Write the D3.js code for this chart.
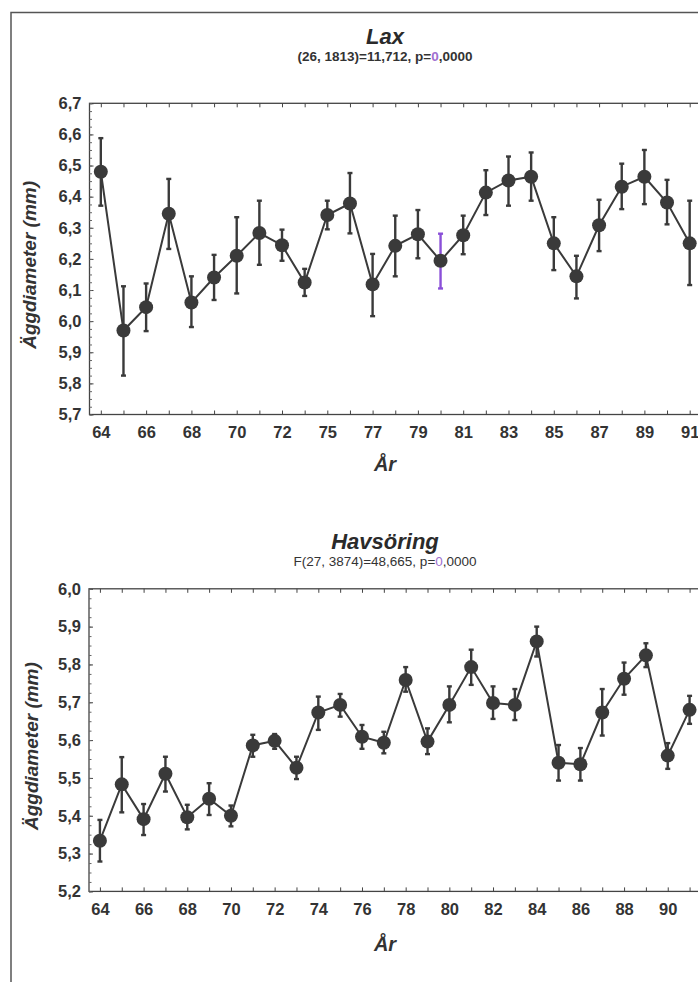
<!DOCTYPE html>
<html><head><meta charset="utf-8">
<script src="https://cdn.jsdelivr.net/npm/d3@7"></script>
<style>
html,body{margin:0;padding:0;background:#fff;overflow:hidden;}
svg{display:block;font-family:"Liberation Sans",Arial,sans-serif;}
</style></head>
<body><svg id="c" width="698" height="982"></svg>
<script>
// ---------- DATA ----------
const laxYears = ["64","65","66","67","68","69","70","71","72","73","75","76","77","78","79","80","81","82","83","84","85","86","87","88","89","90","91"];
const laxMean  = [6.48,5.97,6.045,6.345,6.06,6.14,6.21,6.283,6.244,6.124,6.341,6.378,6.118,6.242,6.279,6.194,6.276,6.413,6.452,6.464,6.25,6.144,6.308,6.432,6.464,6.381,6.25];
const laxUpper = [6.588,6.112,6.121,6.457,6.144,6.213,6.334,6.387,6.294,6.168,6.387,6.476,6.216,6.339,6.357,6.281,6.339,6.485,6.529,6.542,6.334,6.21,6.39,6.506,6.55,6.454,6.387];
const laxLower = [6.371,5.825,5.968,6.232,5.981,6.068,6.089,6.181,6.194,6.081,6.295,6.282,6.016,6.144,6.202,6.105,6.215,6.341,6.371,6.387,6.164,6.073,6.225,6.36,6.376,6.311,6.116];
const laxYTicks = [5.7,5.8,5.9,6.0,6.1,6.2,6.3,6.4,6.5,6.6,6.7];
const laxHighlight = ["80"];

const havYears = ["64","65","66","67","68","69","70","71","72","73","74","75","76","77","78","79","80","81","82","83","84","85","86","87","88","89","90","91"];
const havMean  = [5.334,5.483,5.391,5.511,5.396,5.445,5.4,5.586,5.598,5.527,5.673,5.693,5.609,5.593,5.759,5.596,5.693,5.793,5.698,5.693,5.861,5.54,5.536,5.673,5.762,5.824,5.559,5.68];
const havUpper = [5.389,5.555,5.431,5.556,5.429,5.486,5.427,5.614,5.616,5.556,5.715,5.722,5.64,5.622,5.793,5.631,5.742,5.839,5.742,5.735,5.9,5.587,5.579,5.735,5.805,5.856,5.592,5.717];
const havLower = [5.279,5.409,5.349,5.464,5.364,5.402,5.372,5.556,5.577,5.497,5.627,5.662,5.577,5.565,5.728,5.563,5.647,5.746,5.656,5.653,5.821,5.493,5.493,5.612,5.72,5.793,5.524,5.643];
const havYTicks = [5.2,5.3,5.4,5.5,5.6,5.7,5.8,5.9,6.0];
const havHighlight = [];

const yLabel = "Äggdiameter (mm)";
const xLabel = "År";

// ---------- DRAW ----------
const svg = d3.select("#c");
const ink = "#3a3a3a";
const fmt = v => d3.format(".1f")(v).replace(".", ",");

// outer frame
svg.append("path").attr("d","M11,982 V12.5 H700").attr("fill","none").attr("stroke","#555").attr("stroke-width",1.5);

function panel(o){
  const g = svg.append("g");
  const x = d3.scalePoint().domain(o.years).range([o.left, o.right]).padding(0.5);
  const y = d3.scaleLinear().domain(o.ydom).range([o.bottom, o.top]);
  const cx = (o.left + 385) ; // unused
  // titles
  g.append("text").attr("x",385).attr("y",o.titleY).attr("text-anchor","middle")
    .attr("font-size",22).attr("font-weight","bold").attr("font-style","italic").attr("fill","#2a2a2a").text(o.title);
  const st = g.append("text").attr("x",385).attr("y",o.subY).attr("text-anchor","middle")
    .attr("font-size",13.5).attr("font-weight",o.subBold?"bold":"normal").attr("fill","#333");
  o.sub.forEach(s => st.append("tspan").attr("fill", s.c || "#333").text(s.t));
  // frame
  g.append("rect").attr("x",o.left).attr("y",o.top).attr("width",o.right-o.left).attr("height",o.bottom-o.top)
    .attr("fill","none").attr("stroke","#444").attr("stroke-width",1.3);
  // x axis bottom
  const xa = g.append("g").attr("transform",`translate(0,${o.bottom})`)
    .call(d3.axisBottom(x).tickSizeInner(-4).tickSizeOuter(0).tickPadding(12)
      .tickFormat((d,i)=> i%2===0 ? d : ""));
  xa.select(".domain").remove();
  xa.selectAll("line").attr("stroke","#444");
  xa.selectAll("text").attr("font-size",16.5).attr("font-weight","bold").attr("fill","#333").attr("font-family","Liberation Sans, Arial, sans-serif");
  // x axis top ticks
  const xt = g.append("g").attr("transform",`translate(0,${o.top})`)
    .call(d3.axisTop(x).tickSizeInner(-4).tickSizeOuter(0).tickFormat(""));
  xt.select(".domain").remove();
  xt.selectAll("line").attr("stroke","#444");
  // y axis
  const ya = g.append("g").attr("transform",`translate(${o.left},0)`)
    .call(d3.axisLeft(y).tickValues(o.yticks).tickSizeInner(-4).tickSizeOuter(0).tickPadding(8).tickFormat(fmt));
  ya.select(".domain").remove();
  ya.selectAll("line").attr("stroke","#444");
  ya.selectAll("text").attr("font-size",16.5).attr("font-weight","bold").attr("fill","#333").attr("font-family","Liberation Sans, Arial, sans-serif");
  // minor y ticks
  const minor = d3.range(o.ydom[0], o.ydom[1]+1e-9, 0.025);
  const ym = g.append("g").attr("transform",`translate(${o.left},0)`)
    .call(d3.axisLeft(y).tickValues(minor).tickSizeInner(-2.5).tickSizeOuter(0).tickFormat(""));
  ym.select(".domain").remove();
  ym.selectAll("line").attr("stroke","#666");
  // axis titles
  g.append("text").attr("transform",`translate(${o.ylabX},${(o.top+o.bottom)/2+6}) rotate(-90)`).attr("text-anchor","middle")
    .attr("font-size",19).attr("font-weight","bold").attr("font-style","italic").attr("fill","#333").text(yLabel);
  g.append("text").attr("x",385).attr("y",o.xlabY).attr("text-anchor","middle")
    .attr("font-size",20).attr("font-weight","bold").attr("font-style","italic").attr("fill","#333").text(xLabel);
  // line
  const data = o.years.map((yr,i)=>({yr, m:o.mean[i], u:o.upper[i], l:o.lower[i]}));
  g.append("path").datum(data).attr("fill","none").attr("stroke",ink).attr("stroke-width",2)
    .attr("d", d3.line().x(d=>x(d.yr)).y(d=>y(d.m)));
  // error bars
  const eb = g.selectAll(".eb").data(data).join("g").attr("class","eb")
    .attr("stroke", d => o.hl.includes(d.yr) ? "#8a4fd8" : ink);
  eb.append("line").attr("x1",d=>x(d.yr)).attr("x2",d=>x(d.yr)).attr("y1",d=>y(d.u)).attr("y2",d=>y(d.l)).attr("stroke-width",2.4);
  eb.append("line").attr("x1",d=>x(d.yr)-2.5).attr("x2",d=>x(d.yr)+2.5).attr("y1",d=>y(d.u)).attr("y2",d=>y(d.u)).attr("stroke-width",2.4);
  eb.append("line").attr("x1",d=>x(d.yr)-2.5).attr("x2",d=>x(d.yr)+2.5).attr("y1",d=>y(d.l)).attr("y2",d=>y(d.l)).attr("stroke-width",2.4);
  // markers
  g.selectAll(".pt").data(data).join("circle").attr("class","pt")
    .attr("cx",d=>x(d.yr)).attr("cy",d=>y(d.m)).attr("r",7).attr("fill",ink);
}

panel({title:"Lax", titleY:44, subY:61, subBold:true,
  sub:[{t:"(26, 1813)=11,712, p="},{t:"0",c:"#a070d0"},{t:",0000"}],
  years:laxYears, mean:laxMean, upper:laxUpper, lower:laxLower, hl:laxHighlight,
  ydom:[5.7,6.7], yticks:laxYTicks,
  left:89.5, right:701, top:103.3, bottom:414.5, ylabX:36, xlabY:471});

panel({title:"Havsöring", titleY:549, subY:566, subBold:false,
  sub:[{t:"F(27, 3874)=48,665, p="},{t:"0",c:"#a070d0"},{t:",0000"}],
  years:havYears, mean:havMean, upper:havUpper, lower:havLower, hl:havHighlight,
  ydom:[5.2,6.0], yticks:havYTicks,
  left:89, right:700.5, top:588.8, bottom:891.4, ylabX:38, xlabY:951});
</script>
</body></html>
